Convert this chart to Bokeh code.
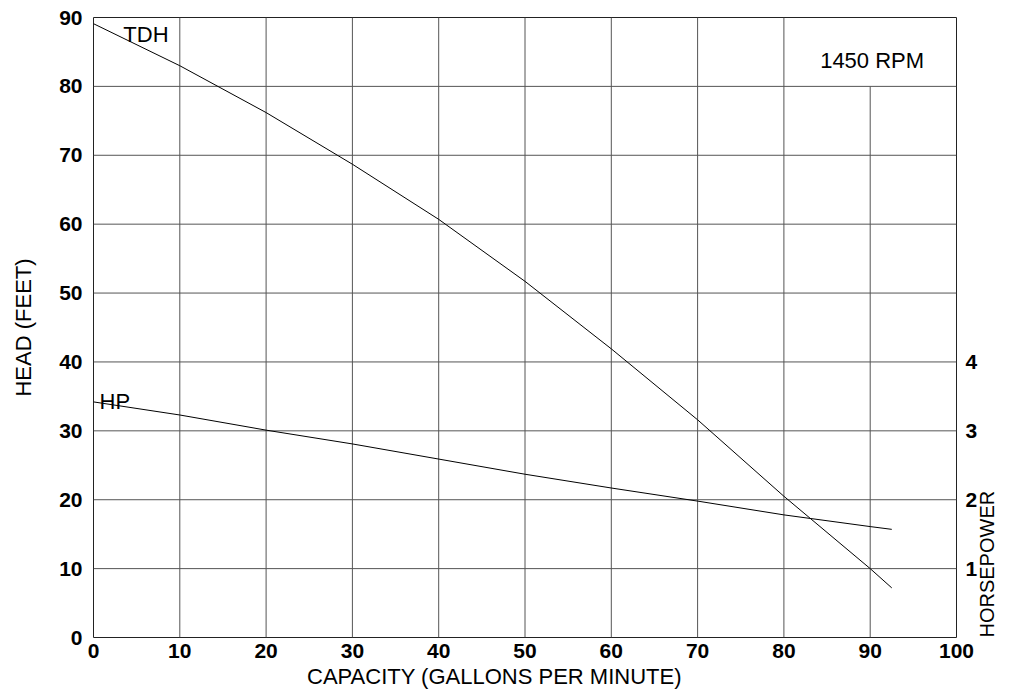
import math
from bokeh.plotting import figure
from bokeh.models import Range1d, LinearAxis, FixedTicker, Label
from bokeh.embed import file_html
from bokeh.resources import INLINE

# ---- data ----
capacity = [0, 10, 20, 30, 40, 50, 60, 70, 80, 90, 92.5]
tdh = [89.1, 83.0, 76.2, 68.7, 60.7, 51.7, 41.9, 31.6, 20.5, 10.0, 7.2]
hp = [3.42, 3.23, 3.01, 2.81, 2.59, 2.37, 2.17, 1.98, 1.78, 1.61, 1.57]

x_ticks = [0, 10, 20, 30, 40, 50, 60, 70, 80, 90, 100]
y_ticks = [0, 10, 20, 30, 40, 50, 60, 70, 80, 90]
hp_ticks = [1, 2, 3, 4]

vgrid_x = [10, 20, 30, 40, 50, 60, 70, 80, 90]
vgrid_top = [90, 90, 90, 90, 90, 90, 90, 90, 80]
hgrid_y = [10, 20, 30, 40, 50, 60, 70, 80]

FONT = "Liberation Sans"
GRID = "#555555"
NBSP = "\u00a0"

p = figure(width=1012, height=695,
           x_range=Range1d(0, 100), y_range=Range1d(0, 90),
           output_backend="svg", toolbar_location=None,
           min_border_left=93, min_border_right=52,
           min_border_top=17, min_border_bottom=58)
p.extra_y_ranges = {"hp": Range1d(0, 9)}

p.xgrid.visible = False
p.ygrid.visible = False
p.outline_line_color = "#222222"
p.outline_line_width = 1
p.background_fill_color = "white"
p.border_fill_color = "white"

# grid lines
p.segment(x0=vgrid_x, y0=[y_ticks[0]] * len(vgrid_x), x1=vgrid_x, y1=vgrid_top,
          line_color=GRID, line_width=1)
p.segment(x0=[x_ticks[0]] * len(hgrid_y), y0=hgrid_y, x1=[x_ticks[-1]] * len(hgrid_y), y1=hgrid_y,
          line_color=GRID, line_width=1)

# curves
p.line(capacity, tdh, line_color="black", line_width=1)
p.line(capacity, hp, line_color="black", line_width=1, y_range_name="hp")

def style_axis(ax, ticks, standoff):
    ax.ticker = FixedTicker(ticks=ticks)
    ax.major_tick_in = 0
    ax.major_tick_out = 0
    ax.minor_tick_in = 0
    ax.minor_tick_out = 0
    ax.axis_line_color = None
    ax.major_label_text_font = FONT
    ax.major_label_text_font_size = "21px"
    ax.major_label_text_font_style = "bold"
    ax.major_label_text_color = "black"
    ax.major_label_standoff = standoff
    ax.axis_label_text_font = FONT
    ax.axis_label_text_font_size = "22px"
    ax.axis_label_text_font_style = "normal"
    ax.axis_label_text_color = "black"

xa = p.xaxis[0]
style_axis(xa, x_ticks, 6)
xa.axis_label = "CAPACITY (GALLONS PER MINUTE)" + NBSP * 10
xa.axis_label_standoff = 3

ya = p.yaxis[0]
style_axis(ya, y_ticks, 11)
ya.axis_label = "HEAD (FEET)"
ya.axis_label_standoff = 20

ra = LinearAxis(y_range_name="hp")
style_axis(ra, hp_ticks, 9)
ra.axis_label = "HORSEPOWER"
ra.axis_label_standoff = 7
ra.axis_label_text_font_size = "20px"
if hasattr(ra, "axis_label_orientation"):
    ra.axis_label_orientation = math.pi / 2
if hasattr(ra, "axis_label_align"):
    ra.axis_label_align = "start"
p.add_layout(ra, "right")

def add_text(x, y, s):
    lab = Label(x=x, y=y, text=s, text_font=FONT, text_font_size="22px",
                text_font_style="normal",
                text_color="black", text_baseline="alphabetic", text_align="left")
    p.add_layout(lab)

add_text(3.46, 87.5, "TDH")
add_text(0.7, 34.3, "HP")
add_text(84.2, 83.7, "1450 RPM")

open("out.html", "w").write(file_html(p, INLINE))
